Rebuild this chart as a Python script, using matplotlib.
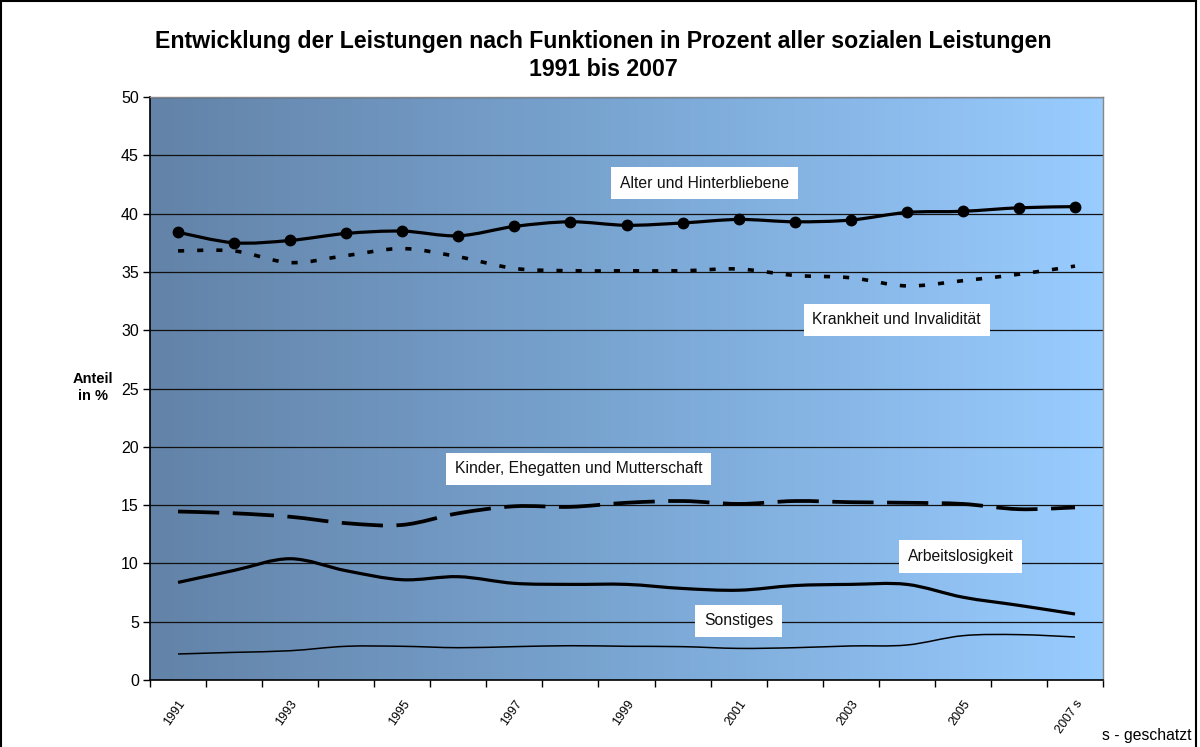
import numpy as np
import matplotlib
matplotlib.use("Agg")
import matplotlib.pyplot as plt
from matplotlib.path import Path
from matplotlib.patches import PathPatch
from matplotlib.colors import LinearSegmentedColormap
from matplotlib.lines import Line2D

plt.rcParams['font.family'] = ['Liberation Sans', 'DejaVu Sans']

years = list(range(1991, 2008))
tick_labels = ['1991', '1993', '1995', '1997', '1999', '2001', '2003', '2005', '2007 s']

alter = [38.4, 37.5, 37.7, 38.3, 38.5, 38.1, 38.9, 39.3, 39.0, 39.2, 39.5, 39.3, 39.45, 40.1, 40.2, 40.5, 40.6]
krankheit = [36.8, 36.8, 35.8, 36.4, 37.0, 36.3, 35.3, 35.1, 35.1, 35.1, 35.25, 34.7, 34.5, 33.8, 34.25, 34.8, 35.5]
kinder = [14.45, 14.3, 14.0, 13.45, 13.3, 14.3, 14.9, 14.85, 15.2, 15.35, 15.1, 15.35, 15.25, 15.2, 15.1, 14.65, 14.8]
arbeit = [8.37, 9.4, 10.4, 9.37, 8.6, 8.86, 8.29, 8.2, 8.2, 7.85, 7.7, 8.1, 8.2, 8.2, 7.1, 6.4, 5.66]
sonstiges = [2.23, 2.37, 2.51, 2.89, 2.89, 2.77, 2.86, 2.94, 2.89, 2.86, 2.71, 2.77, 2.92, 3.0, 3.8, 3.89, 3.69]

labels = ['Alter und Hinterbliebene', 'Krankheit und Invalidität',
          'Kinder, Ehegatten und Mutterschaft', 'Arbeitslosigkeit', 'Sonstiges']


def smooth_path(xs, ys):
    pts = np.column_stack([xs, ys]).astype(float)
    n = len(pts)
    verts = [pts[0]]
    codes = [Path.MOVETO]
    for i in range(n - 1):
        p0 = pts[i - 1] if i > 0 else pts[i]
        p1 = pts[i]
        p2 = pts[i + 1]
        p3 = pts[i + 2] if i + 2 < n else pts[i + 1]
        c1 = p1 + (p2 - p0) / 6.0
        c2 = p2 - (p3 - p1) / 6.0
        verts += [c1, c2, p2]
        codes += [Path.CURVE4] * 3
    return Path(np.array(verts), codes)


fig = plt.figure(figsize=(12, 7.47), dpi=100)
ax = fig.add_axes([0.125, 0.0897, 0.7942, 0.7804])

x = np.arange(len(years))
ax.set_xlim(-0.5, len(years) - 0.5)
ax.set_ylim(0, 50)

# gradient background
cmap = LinearSegmentedColormap.from_list('bg', ['#6383a8', '#7aa6d3', '#99ccff'])
grad = np.linspace(0, 1, 256).reshape(1, -1)
ax.imshow(grad, cmap=cmap, aspect='auto', extent=[-0.5, len(years) - 0.5, 0, 50],
          zorder=0, interpolation='bicubic')

# grid
for yv in range(5, 51, 5):
    ax.axhline(yv, color='#111111', lw=0.9, zorder=1)

styles = [
    dict(data=alter, lw=2.3, ls='-'),
    dict(data=krankheit, lw=2.6, ls=(0, (1.7, 3.6))),
    dict(data=kinder, lw=2.7, ls=(0, (11, 3.6))),
    dict(data=arbeit, lw=2.3, ls='-'),
    dict(data=sonstiges, lw=1.1, ls='-'),
]
for st in styles:
    p = smooth_path(x, st['data'])
    patch = PathPatch(p, fill=False, edgecolor='black', lw=st['lw'], linestyle=st['ls'],
                      capstyle='butt', joinstyle='round', zorder=3)
    ax.add_patch(patch)

ax.plot(x, alter, 'o', color='black', markersize=7.5, zorder=4)

# labels
box = dict(boxstyle='square,pad=0.55', facecolor='white', edgecolor='none')
label_pos = [(9.39, 42.6), (12.82, 30.9), (7.14, 18.1), (13.96, 10.6), (10.0, 5.06)]
for lab, (lx, ly) in zip(labels, label_pos):
    ax.text(lx, ly, lab, ha='center', va='center', fontsize=11.3, bbox=box, zorder=5,
            color='#111111')

# axes styling
ax.set_yticks(range(0, 51, 5))
ax.tick_params(axis='y', direction='out', length=5, width=1, labelsize=11.5, pad=3)
ax.set_xticks(x[::2])
ax.set_xticklabels(tick_labels, rotation=55, ha='right', va='top', rotation_mode='anchor',
                   fontsize=9)
ax.set_xticks(np.arange(-0.5, len(years), 1), minor=True)
ax.tick_params(axis='x', which='major', length=0, pad=13)
ax.tick_params(axis='x', which='minor', direction='out', length=5, width=1)

for s in ['left', 'bottom']:
    ax.spines[s].set_color('black')
    ax.spines[s].set_linewidth(1.2)
for s in ['top', 'right']:
    ax.spines[s].set_color('#888888')
    ax.spines[s].set_linewidth(1.0)

fig.text(0.5025, 0.926, 'Entwicklung der Leistungen nach Funktionen in Prozent aller sozialen Leistungen\n1991 bis 2007',
         ha='center', va='center', fontsize=16.7, fontweight='bold', linespacing=1.25)
fig.text(0.0775, 0.481, 'Anteil\nin %', ha='center', va='center', fontsize=10.5,
         fontweight='bold', linespacing=1.3)
fig.text(0.9925, 0.016, 's - geschatzt', ha='right', va='center', fontsize=11.3)

# figure border
for xs_, ys_ in [([0.001, 0.001], [0, 0.999]), ([0.001, 0.997], [0.998, 0.998]), ([0.997, 0.997], [0, 0.998])]:
    fig.add_artist(Line2D(xs_, ys_, color='black', lw=1.5, transform=fig.transFigure))

fig.savefig('out.png', dpi=100)
